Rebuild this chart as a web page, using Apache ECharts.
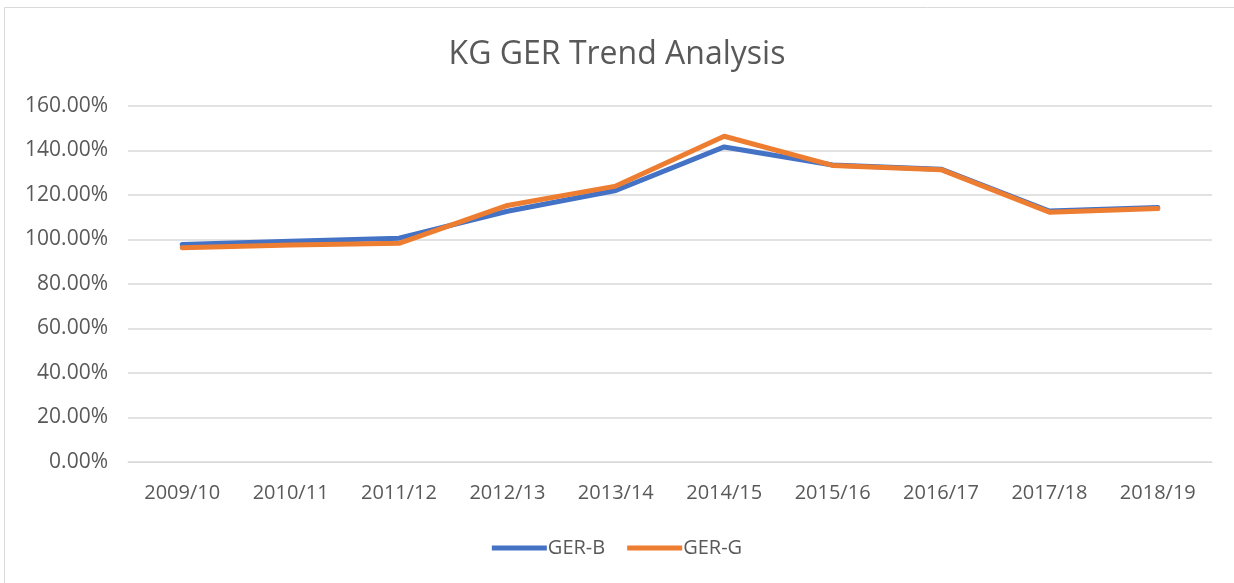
<!DOCTYPE html>
<html><head><meta charset="utf-8">
<script src="https://cdn.jsdelivr.net/npm/echarts@6/dist/echarts.min.js"></script>
<style>html,body{margin:0;padding:0;background:#fff}#c{width:1234px;height:583px}</style>
</head><body><div id="c"></div>
<script>
const categories = ['2009/10','2010/11','2011/12','2012/13','2013/14','2014/15','2015/16','2016/17','2017/18','2018/19'];
const gerB = [97.8, 99.2, 100.6, 112.7, 122.0, 141.6, 133.5, 131.6, 112.8, 114.4];
const gerG = [96.3, 97.5, 98.3, 115.3, 124.0, 146.4, 133.3, 131.4, 112.3, 113.9];
const yTicks = {min: 0, max: 160, interval: 20};
const chart = echarts.init(document.getElementById('c'));
const font = '"Open Sans", "Noto Sans", sans-serif';
chart.setOption({
  animation: false,
  graphic: [{type:'rect', shape:{x:4.5,y:7.5,width:1240,height:600}, style:{fill:'none', stroke:'#d9d9d9', lineWidth:1}}],
  title: {text:'KG GER Trend Analysis', left:'center', top:34, textStyle:{fontFamily:font, fontSize:32, fontWeight:'normal', color:'#595959'}},
  grid: {left:128, right:22, top:106, bottom:121, containLabel:false},
  legend: {bottom:20, left:'center', itemWidth:55, itemHeight:5, itemGap:22, icon:'rect',
    textStyle:{fontFamily:font, fontSize:20, color:'#595959', padding:[0,0,0,-4]},
    data:['GER-B','GER-G']},
  xAxis: {type:'category', data:categories, boundaryGap:true,
    axisLine:{lineStyle:{color:'#d9d9d9', width:1}}, axisTick:{show:false},
    axisLabel:{fontFamily:font, fontSize:20, color:'#595959', margin:21}},
  yAxis: {type:'value', min:yTicks.min, max:yTicks.max, interval:yTicks.interval,
    axisLine:{show:false}, axisTick:{show:false},
    splitLine:{lineStyle:{color:'#d9d9d9', width:1.5}},
    axisLabel:{fontFamily:font, fontSize:21, color:'#595959', margin:20, formatter: v => v.toFixed(2)+'%'}},
  series: [
    {name:'GER-B', type:'line', data:gerB, symbol:'none', lineStyle:{width:5, color:'#4472C4', cap:'round', join:'round'}, itemStyle:{color:'#4472C4'}},
    {name:'GER-G', type:'line', data:gerG, symbol:'none', lineStyle:{width:5, color:'#ED7D31', cap:'round', join:'round'}, itemStyle:{color:'#ED7D31'}}
  ]
});
</script></body></html>
